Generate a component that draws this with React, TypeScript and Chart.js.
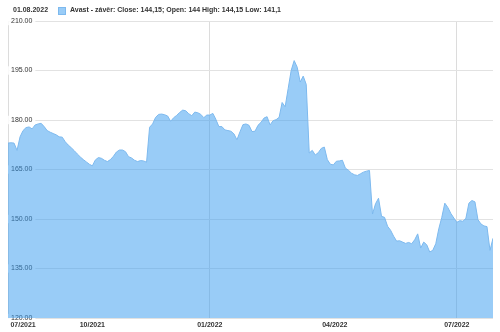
import React, { useEffect, useRef } from 'react';
import { Chart, registerables } from 'chart.js';

Chart.register(...registerables);

// Daily close values (trading days)
const closeValues = [
  173.0, 173.1, 173.0, 170.8, 174.9, 176.8, 177.7, 177.9, 177.3, 178.5,
  178.8, 179.0, 178.0, 176.8, 176.3, 175.9, 175.5, 174.9, 174.8, 173.4,
  172.4, 171.6, 170.7, 169.7, 168.8, 168.0, 167.3, 166.6, 166.1, 167.9,
  168.6, 168.4, 167.8, 167.4, 168.0, 169.0, 170.3, 170.9, 170.9, 170.4,
  168.9, 168.5, 167.8, 167.4, 167.7, 167.6, 167.2, 177.8, 178.8, 180.8,
  181.7, 181.8, 181.6, 181.2, 179.6, 180.7, 181.4, 182.3, 183.0, 182.8,
  181.9, 181.3, 182.4, 182.2, 181.7, 180.7, 181.5, 181.5, 182.0, 180.2,
  178.0, 178.0, 177.0, 176.8, 176.6, 175.8, 174.0, 176.4, 178.6, 178.8,
  178.4, 176.5, 176.6, 178.4, 179.3, 180.6, 181.0, 178.5, 179.8, 180.1,
  180.8, 185.3, 184.0, 189.5, 195.0, 198.0, 196.0, 191.5, 193.3, 190.8,
  170.0, 170.8, 169.4, 170.1, 171.4, 171.8, 168.0, 166.6, 166.4, 167.5,
  167.6, 167.8, 165.4, 164.8, 163.9, 163.4, 163.2, 163.7, 164.2, 164.5,
  164.7, 151.5, 154.6, 156.3, 150.8, 150.5, 147.8, 146.6, 144.8, 143.3,
  143.4, 143.0, 142.6, 142.9, 142.5, 143.7, 145.5, 141.2, 143.0, 142.2,
  140.0, 140.5, 142.5, 147.0, 150.5, 154.8, 153.5, 151.7, 150.3, 149.0,
  149.5, 149.3, 150.2, 154.8, 155.6, 155.2, 149.8, 148.5, 147.9, 147.7,
  140.5, 144.15,
];

// Month labels and the trading-day index where each one sits
const tickIndex = [5, 28, 67, 108.5, 149];
const tickLabels = ['07/2021', '10/2021', '01/2022', '04/2022', '07/2022'];
const gridLabels = ['01/2022', '07/2022'];

const yMin = 120;
const yMax = 210;
const yStep = 15;

const headerDate = '01.08.2022';
const seriesLabel = 'Avast - závěr: Close: 144,15; Open: 144 High: 144,15 Low: 141,1';

const FONT = "'Liberation Sans', Arial, sans-serif";
const FILL = 'rgba(51,153,239,0.5)';
const LINE = '#7db9ee';

export default function App() {
  const ref = useRef<HTMLCanvasElement>(null);

  useEffect(() => {
    const labelAt = (v: number) => {
      const i = tickIndex.indexOf(v);
      return i >= 0 ? tickLabels[i] : '';
    };
    const chart = new Chart(ref.current as HTMLCanvasElement, {
      type: 'line',
      data: {
        datasets: [
          {
            label: seriesLabel,
            data: closeValues.map((y, i) => ({ x: i, y })),
            borderColor: LINE,
            backgroundColor: FILL,
            borderWidth: 1,
            pointRadius: 0,
            fill: 'start',
            tension: 0,
            yAxisID: 'y',
          },
        ],
      },
      options: {
        animation: false,
        responsive: false,
        layout: { padding: { left: 8, right: 7, top: 21, bottom: 0 } },
        plugins: { legend: { display: false }, tooltip: { enabled: false } },
        scales: {
          x: {
            type: 'linear',
            min: 0,
            max: closeValues.length - 1,
            afterBuildTicks: (axis: any) => {
              axis.ticks = tickIndex.map((value) => ({ value }));
            },
            afterFit: (axis: any) => {
              axis.height = 14;
            },
            ticks: {
              autoSkip: false,
              maxRotation: 0,
              padding: 3,
              color: '#333',
              font: { family: FONT, size: 7, weight: 'bold' },
              callback: (v: any) => labelAt(Number(v)),
            },
            grid: {
              drawTicks: false,
              color: (ctx: any) =>
                ctx.tick && gridLabels.includes(labelAt(ctx.tick.value)) ? '#dcdcdc' : 'rgba(0,0,0,0)',
            },
            border: { display: false },
          },
          // grid lines, drawn beneath the area
          y: {
            min: yMin,
            max: yMax,
            afterFit: (axis: any) => {
              axis.width = 0;
            },
            ticks: { stepSize: yStep, display: false },
            grid: { drawTicks: false, color: '#e2e2e2' },
            border: { display: true, color: '#dcdcdc' },
          },
          // tick labels with white backdrop, drawn above the area
          yLabels: {
            position: 'left',
            min: yMin,
            max: yMax,
            z: 1,
            afterFit: (axis: any) => {
              axis.width = 0;
            },
            ticks: {
              stepSize: yStep,
              mirror: true,
              padding: 3,
              color: '#333',
              font: { family: FONT, size: 7 },
              callback: (v: any) => Number(v).toFixed(2),
              showLabelBackdrop: true,
              backdropColor: 'rgba(255,255,255,0.85)',
              backdropPadding: { x: 3, y: 0 },
            } as any,
            grid: { display: false, drawTicks: false },
            border: { display: false },
          },
        },
      },
    } as any);
    return () => chart.destroy();
  }, []);

  return (
    <div style={{ position: 'absolute', left: 0, top: 0, width: 500, height: 332, background: '#fff' }}>
      <canvas ref={ref} width={500} height={332} style={{ display: 'block' }} />
      <div
        style={{
          position: 'absolute',
          left: 13,
          top: 6,
          font: `bold 7px ${FONT}`,
          lineHeight: '8px',
          color: '#333',
          whiteSpace: 'nowrap',
        }}
      >
        {headerDate}
      </div>
      <div
        style={{
          position: 'absolute',
          left: 58,
          top: 7,
          width: 6,
          height: 6,
          background: FILL,
          border: `1px solid ${LINE}`,
        }}
      />
      <div
        style={{
          position: 'absolute',
          left: 70,
          top: 6,
          font: `bold 7px ${FONT}`,
          lineHeight: '8px',
          color: '#333',
          whiteSpace: 'nowrap',
        }}
      >
        {seriesLabel}
      </div>
    </div>
  );
}
